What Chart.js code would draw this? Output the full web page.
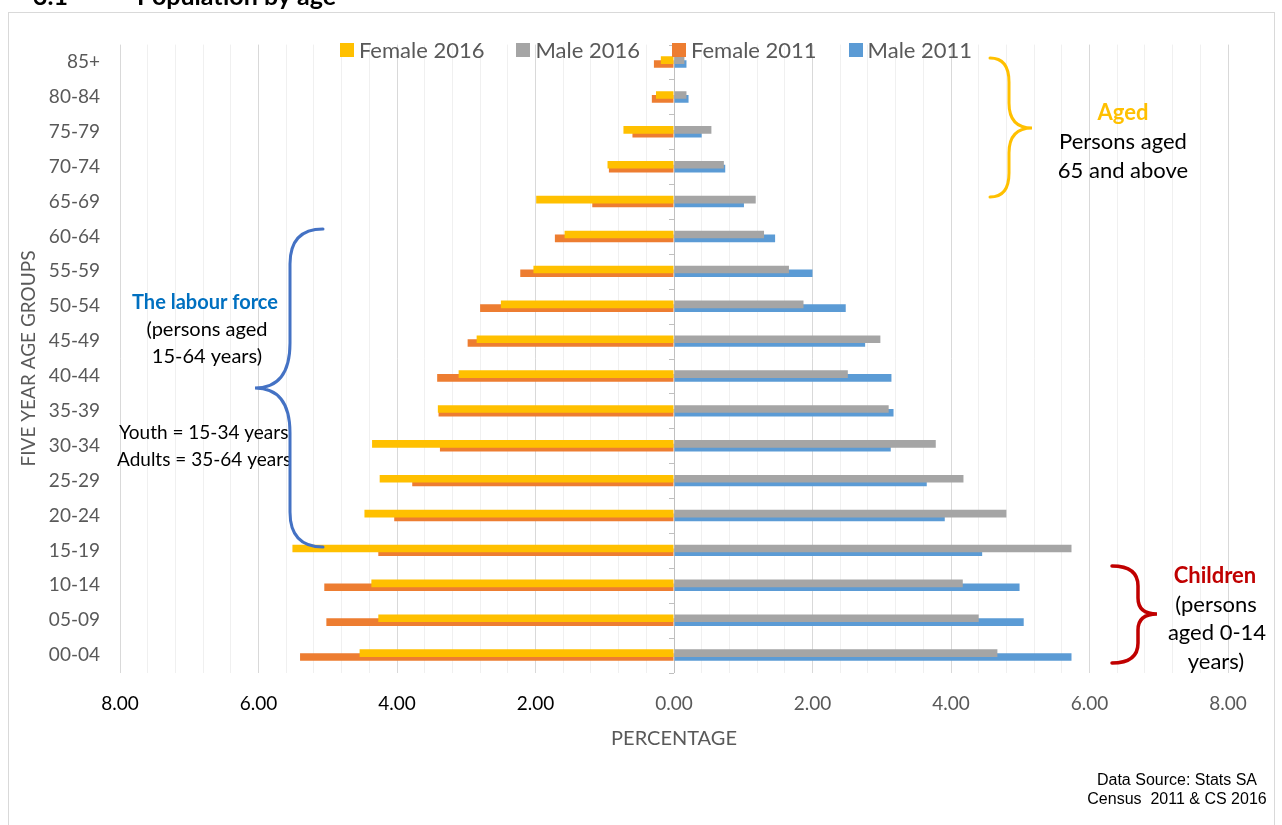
<!DOCTYPE html>
<html><head><meta charset="utf-8">
<script src="https://cdn.jsdelivr.net/npm/chart.js@4.4.0/dist/chart.umd.min.js"></script>
<style>html,body{margin:0;padding:0;background:#fff;} canvas{display:block;}</style>
</head><body>
<canvas id="c" width="1282" height="825"></canvas>
<script>
const ageGroups = ['00-04','05-09','10-14','15-19','20-24','25-29','30-34','35-39','40-44','45-49','50-54','55-59','60-64','65-69','70-74','75-79','80-84','85+'];
const female2016 = [4.54,4.27,4.37,5.51,4.47,4.25,4.36,3.41,3.11,2.85,2.50,2.03,1.58,1.99,0.96,0.73,0.26,0.19];
const female2011 = [5.40,5.02,5.05,4.27,4.04,3.78,3.38,3.40,3.42,2.98,2.80,2.22,1.72,1.18,0.94,0.60,0.32,0.29];
const male2016   = [4.67,4.40,4.17,5.74,4.80,4.18,3.78,3.10,2.51,2.98,1.87,1.66,1.30,1.18,0.72,0.54,0.18,0.15];
const male2011   = [5.74,5.05,4.99,4.45,3.91,3.65,3.13,3.17,3.14,2.76,2.48,2.00,1.46,1.01,0.74,0.40,0.21,0.18];
const xMin = -8, xMax = 8, gridStep = 0.4, labelStep = 2;

const FONT = 'Lato, Carlito, Calibri, "Noto Sans", sans-serif';
Chart.defaults.font.family = FONT;

const framePlugin = {
  id: 'frame',
  beforeDraw(chart) {
    const ctx = chart.ctx;
    ctx.save();
    ctx.fillStyle = '#fff';
    ctx.fillRect(0, 0, chart.width, chart.height);
    ctx.strokeStyle = '#d9d9d9';
    ctx.lineWidth = 1;
    ctx.strokeRect(8.5, 12.5, 1266, 830);
    ctx.fillStyle = '#000';
    ctx.font = 'bold 25px ' + FONT;
    ctx.textBaseline = 'alphabetic';
    ctx.fillText('3.1', 33, 5);
    ctx.fillText('Population by age', 137, 5);
    ctx.restore();
  },
  beforeDatasetsDraw(chart) {
    const ctx = chart.ctx, y = chart.scales.y, x = chart.scales.x;
    const x0 = x.getPixelForValue(0);
    ctx.save();
    ctx.strokeStyle = '#bfbfbf';
    ctx.lineWidth = 1;
    const n = ageGroups.length;
    const step = y.getPixelForValue(0) - y.getPixelForValue(1);
    for (let i = 0; i <= n; i++) {
      let py;
      if (i === 0) py = y.getPixelForValue(0) + step / 2;
      else if (i === n) py = y.getPixelForValue(n - 1) - step / 2;
      else py = (y.getPixelForValue(i - 1) + y.getPixelForValue(i)) / 2;
      py = Math.round(py) + 0.5;
      ctx.beginPath();
      ctx.moveTo(x0 - 5, py);
      ctx.lineTo(x0, py);
      ctx.stroke();
    }
    ctx.restore();
  }
};

function brace(ctx, xEdge, xMid, xTip, y1, ym, y2, rEnd, rMid, color, lw) {
  ctx.beginPath();
  ctx.moveTo(xEdge, y1);
  ctx.quadraticCurveTo(xMid, y1, xMid, y1 + rEnd);
  ctx.lineTo(xMid, ym - rMid);
  ctx.quadraticCurveTo(xMid, ym, xTip, ym);
  ctx.quadraticCurveTo(xMid, ym, xMid, ym + rMid);
  ctx.lineTo(xMid, y2 - rEnd);
  ctx.quadraticCurveTo(xMid, y2, xEdge, y2);
  ctx.strokeStyle = color;
  ctx.lineWidth = lw;
  ctx.lineCap = 'round';
  ctx.stroke();
}

const overlayPlugin = {
  id: 'overlay',
  afterDraw(chart) {
    const ctx = chart.ctx;
    ctx.save();
    // legend
    ctx.font = '22px ' + FONT;
    ctx.textBaseline = 'middle';
    ctx.textAlign = 'left';
    const box = 14, gap = 5, spacing = 32;
    const items = chart.data.datasets.map(d => ({label: d.label, color: d.backgroundColor, w: ctx.measureText(d.label).width}));
    let total = items.reduce((s, it) => s + box + gap + it.w, 0) + spacing * (items.length - 1);
    let lx = 656 - total / 2;
    const ly = 50;
    items.forEach(it => {
      ctx.fillStyle = it.color;
      ctx.fillRect(Math.round(lx), ly - 7, box, box);
      ctx.fillStyle = '#595959';
      ctx.fillText(it.label, lx + box + gap, ly + 1);
      lx += box + gap + it.w + spacing;
    });

    // texts
    const txt = (s, x, y, font, color, align) => {
      ctx.font = font; ctx.fillStyle = color; ctx.textAlign = align || 'center'; ctx.textBaseline = 'middle';
      ctx.fillText(s, x, y);
    };
    txt('The labour force', 205, 303, 'bold 20px ' + FONT, '#0070c0');
    txt('(persons aged', 207, 330, '20px ' + FONT, '#000');
    txt('15-64 years)', 207, 357, '20px ' + FONT, '#000');
    txt('Youth = 15-34 years', 119, 433, '19px ' + FONT, '#000', 'left');
    txt('Adults = 35-64 years', 117, 460, '19px ' + FONT, '#000', 'left');

    txt('Aged', 1123, 113, 'bold 22px ' + FONT, '#ffc000');
    txt('Persons aged', 1123, 142, '22px ' + FONT, '#000');
    txt('65 and above', 1123, 171, '22px ' + FONT, '#000');

    txt('Children', 1215, 576, 'bold 22px ' + FONT, '#c00000');
    txt('(persons', 1216, 605, '22px ' + FONT, '#000');
    txt('aged 0-14', 1217, 633, '22px ' + FONT, '#000');
    txt('years)', 1216, 662, '22px ' + FONT, '#000');

    txt('Data Source: Stats SA', 1177, 781, '16px "Liberation Sans", Arial, sans-serif', '#000');
    txt('Census  2011 & CS 2016', 1177, 800, '16px "Liberation Sans", Arial, sans-serif', '#000');

    // braces
    brace(ctx, 323, 290, 255, 229, 388, 547, 35, 45, '#4472c4', 3);
    brace(ctx, 990, 1009, 1032, 58, 128, 197, 24, 25, '#ffc000', 3);
    brace(ctx, 1112, 1138, 1157, 566, 614, 663, 20, 16, '#c00000', 3.5);
    ctx.restore();
  }
};

const isMajor = v => Math.abs(v / labelStep - Math.round(v / labelStep)) < 1e-6;

new Chart(document.getElementById('c'), {
  type: 'bar',
  data: {
    labels: ageGroups,
    datasets: [
      {label: 'Female 2016', data: female2016.map(v => -v), backgroundColor: '#ffc000', stack: '2016', order: 0},
      {label: 'Male 2016', data: male2016, backgroundColor: '#a5a5a5', stack: '2016', order: 1},
      {label: 'Female 2011', data: female2011.map(v => -v), backgroundColor: '#ed7d31', stack: '2011', order: 2},
      {label: 'Male 2011', data: male2011, backgroundColor: '#5b9bd5', stack: '2011', order: 3}
    ]
  },
  options: {
    indexAxis: 'y',
    responsive: false,
    animation: false,
    devicePixelRatio: 1,
    categoryPercentage: 0.218,
    barPercentage: 2,
    layout: {padding: {top: 44.6, right: 54, bottom: 62.5, left: 0}},
    plugins: {legend: {display: false}, tooltip: {enabled: false}},
    scales: {
      x: {
        type: 'linear', min: xMin, max: xMax,
        afterFit(s) { s.height = 90; },
        ticks: {
          stepSize: gridStep, autoSkip: false, maxRotation: 0, padding: 20,
          font: {size: 19},
          color: c => (c.tick && c.tick.value < 0) ? '#000' : '#595959',
          callback: v => isMajor(v) ? Math.abs(v).toFixed(2) : ''
        },
        grid: {
          drawTicks: false,
          color: c => {
            const v = c.tick ? c.tick.value : 1;
            if (Math.abs(v) < 1e-6) return '#bfbfbf';
            return isMajor(v) ? '#d9d9d9' : '#f0f0f0';
          }
        },
        border: {display: false},
        title: {display: true, text: 'PERCENTAGE', color: '#595959', font: {size: 20}, padding: {top: 0, bottom: 12}}
      },
      y: {
        type: 'category', reverse: true,
        afterFit(s) { s.width = 120; },
        ticks: {color: '#595959', font: {size: 19}, padding: 20, autoSkip: false},
        grid: {display: false, drawTicks: false},
        border: {display: false},
        title: {display: true, text: 'FIVE YEAR AGE GROUPS', color: '#595959', font: {size: 19}, padding: {top: 17, bottom: 0}}
      }
    }
  },
  plugins: [framePlugin, overlayPlugin]
});
</script>
</body></html>
